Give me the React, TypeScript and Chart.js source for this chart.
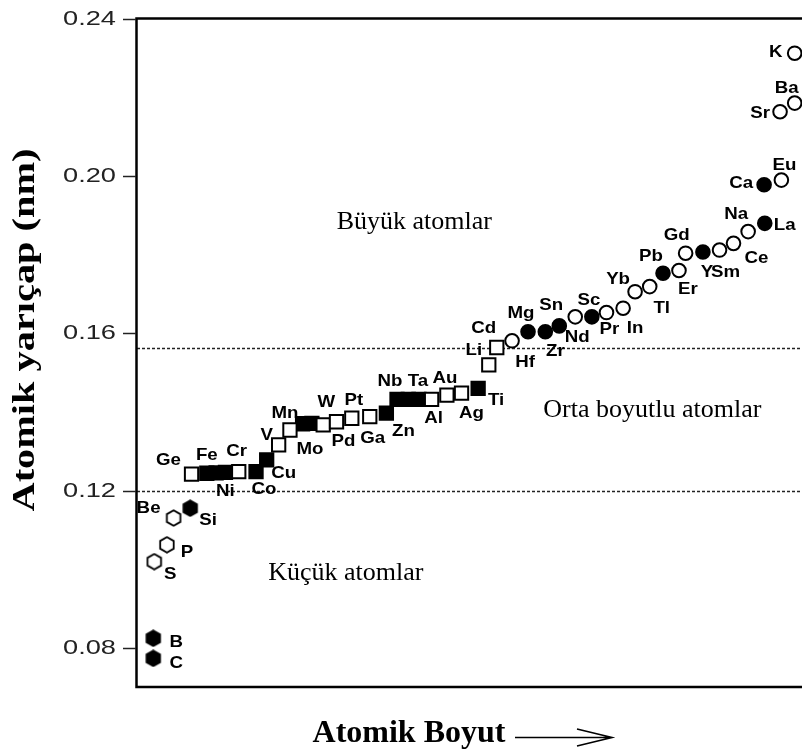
import { useEffect, useRef } from 'react';
import { Chart, registerables } from 'chart.js';

Chart.register(...registerables);

// Y axis ticks and region boundaries (nm)
const yTickValues = [0.08, 0.12, 0.16, 0.2, 0.24];
const yTickLabels = ['0.08', '0.12', '0.16', '0.20', '0.24'];
const smallLimit = 0.1198;
const largeLimit = 0.1563;

// Hexagons
const openHexNames = ['S', 'P', 'Be'];
const openHexX = [2.6, 4.5, 5.5];
const openHexY = [0.1019, 0.1062, 0.113];
const filledHexNames = ['B', 'C', 'Si'];
const filledHexX = [2.45, 2.45, 8.0];
const filledHexY = [0.0824, 0.0773, 0.1155];

// Squares
const openSquareNames = ['Ge', 'Cr', 'V', 'Mn', 'W', 'Pd', 'Pt', 'Ga', 'Al', 'Au', 'Ag', 'Li', 'Cd'];
const openSquareX = [8.2, 15.3, 21.3, 23.0, 28.0, 30.0, 32.3, 35.0, 44.3, 46.6, 48.8, 52.9, 54.1];
const openSquareY = [0.1242, 0.1248, 0.1316, 0.1354, 0.1367, 0.1375, 0.1384, 0.1388, 0.1432, 0.1443, 0.1448, 0.152, 0.1564];
const filledSquareNames = ['Fe', '', 'Ni', 'Co', 'Cu', '', 'Mo', 'Zn', 'Nb', '', 'Ta', 'Ti'];
const filledSquareX = [10.5, 11.9, 13.3, 17.9, 19.5, 24.9, 26.3, 37.5, 39.1, 40.8, 42.4, 51.3];
const filledSquareY = [0.1244, 0.1245, 0.1246, 0.1248, 0.1278, 0.137, 0.1371, 0.1397, 0.1432, 0.1432, 0.1432, 0.146];

// Circles
const openCircleNames = ['Hf', 'Nd', 'Pr', 'In', 'Yb', 'Tl', 'Er', 'Gd', 'Sm', 'Ce', 'Na', 'Eu', 'Sr', 'Ba', 'K'];
const openCircleX = [56.4, 65.9, 70.6, 73.1, 74.9, 77.1, 81.5, 82.5, 87.6, 89.7, 91.9, 96.9, 96.7, 98.9, 98.9];
const openCircleY = [0.1581, 0.1642, 0.1653, 0.1664, 0.1706, 0.1719, 0.176, 0.1804, 0.1812, 0.1829, 0.1859, 0.199, 0.2164, 0.2186, 0.2313];
const filledCircleNames = ['Mg', 'Zr', 'Sn', 'Sc', 'Pb', 'Y', 'La', 'Ca'];
const filledCircleX = [58.8, 61.4, 63.5, 68.4, 79.1, 85.1, 94.4, 94.3];
const filledCircleY = [0.1604, 0.1604, 0.1619, 0.1642, 0.1753, 0.1807, 0.188, 0.1978];

// Region captions: text, x, y in data units
const regionText = ['Büyük atomlar', 'Orta boyutlu atomlar', 'Küçük atomlar'];
const regionX = [41.7, 77.5, 31.4];
const regionY = [0.1883, 0.1405, 0.099];

// Element label placement relative to its marker (px)
const labelOffset: Record<string, [number, number]> = {
  B: [23, 4], C: [23, 5], S: [16, 13], P: [20, 8], Be: [-25, -10], Si: [18, 12],
  Ge: [-23, -14], Fe: [0, -18], Ni: [0, 19], Cr: [-2, -20], Co: [8, 18], Cu: [17, 13],
  V: [-12, -10], Mn: [-5, -17], Mo: [-2, 26], W: [3, -23], Pd: [7, 20], Pt: [2, -18], Ga: [3, 22],
  Zn: [17, 18], Nb: [-7, -18], Ta: [-1, -18], Al: [2, 19], Au: [-2, -17], Ag: [10, 20], Ti: [18, 12],
  Li: [-15, -14], Cd: [-13, -19], Hf: [13, 21], Mg: [-7, -18], Zr: [10, 20], Sn: [-8, -21],
  Nd: [2, 20], Sc: [-3, -17], Pr: [3, 17], In: [12, 20], Yb: [-17, -12], Tl: [12, 22], Pb: [-12, -17],
  Er: [9, 19], Gd: [-9, -18], Y: [4, 20], Sm: [6, 22], Ce: [23, 15], Na: [-12, -17], La: [20, 2],
  Ca: [-23, -2], Eu: [3, -15], Sr: [-20, 2], Ba: [-8, -15], K: [-19, -1],
};

const SANS = '"Liberation Sans", Arial, Helvetica, sans-serif';
const SERIF = '"Liberation Serif", "Times New Roman", serif';

function hexImage(filled: boolean): HTMLCanvasElement {
  const c = document.createElement('canvas');
  c.width = 18;
  c.height = 18;
  const g = c.getContext('2d')!;
  const r = 7.8;
  const cx = 9;
  const cy = 9;
  g.beginPath();
  for (let k = 0; k < 6; k++) {
    const a = Math.PI / 2 + (k * Math.PI) / 3;
    const px = cx + r * Math.cos(a);
    const py = cy - r * Math.sin(a);
    if (k === 0) g.moveTo(px, py);
    else g.lineTo(px, py);
  }
  g.closePath();
  g.fillStyle = filled ? '#000' : '#fff';
  g.fill();
  g.lineWidth = 1.8;
  g.strokeStyle = '#000';
  g.stroke();
  return c;
}

function pts(xs: number[], ys: number[]) {
  return xs.map((x, i) => ({ x, y: ys[i] }));
}

export default function App() {
  const canvasRef = useRef<HTMLCanvasElement | null>(null);

  useEffect(() => {
    document.body.style.margin = '0';
    document.body.style.overflow = 'hidden';
    const canvas = canvasRef.current;
    if (!canvas) return;

    const names: string[][] = [
      openSquareNames, filledSquareNames, openCircleNames, filledCircleNames, openHexNames, filledHexNames,
    ];

    const decorations = {
      id: 'decorations',
      beforeDatasetsDraw(chart: any) {
        const { ctx, chartArea, scales } = chart;
        const y = scales.y;
        ctx.save();
        ctx.strokeStyle = '#222';
        ctx.lineWidth = 1.4;
        ctx.setLineDash([3, 2]);
        [smallLimit, largeLimit].forEach((v) => {
          const py = Math.round(y.getPixelForValue(v)) + 0.5;
          ctx.beginPath();
          ctx.moveTo(chartArea.left, py);
          ctx.lineTo(chartArea.right, py);
          ctx.stroke();
        });
        ctx.setLineDash([]);

        // region captions
        ctx.fillStyle = '#000';
        ctx.font = `26px ${SERIF}`;
        ctx.textAlign = 'center';
        ctx.textBaseline = 'middle';
        regionText.forEach((t, i) => {
          ctx.fillText(t, scales.x.getPixelForValue(regionX[i]), y.getPixelForValue(regionY[i]));
        });
        ctx.restore();
      },
      afterDatasetsDraw(chart: any) {
        const { ctx, chartArea, scales } = chart;
        const y = scales.y;
        ctx.save();

        // element labels
        ctx.fillStyle = '#000';
        ctx.font = `bold 17px ${SANS}`;
        ctx.textAlign = 'center';
        ctx.textBaseline = 'middle';
        names.forEach((list, di) => {
          const meta = chart.getDatasetMeta(di);
          list.forEach((name, i) => {
            if (!name) return;
            const el = meta.data[i];
            const off = labelOffset[name] || [0, -16];
            ctx.save();
            ctx.translate(el.x + off[0], el.y + off[1]);
            ctx.scale(1.1, 1);
            ctx.fillText(name, 0, 0);
            ctx.restore();
          });
        });

        // frame
        ctx.strokeStyle = '#000';
        ctx.lineWidth = 2.5;
        ctx.beginPath();
        ctx.moveTo(chartArea.right + 2, chartArea.top - 0.5);
        ctx.lineTo(chartArea.left - 0.5, chartArea.top - 0.5);
        ctx.lineTo(chartArea.left - 0.5, chartArea.bottom);
        ctx.lineTo(chartArea.right + 2, chartArea.bottom);
        ctx.stroke();

        // y ticks
        ctx.lineWidth = 1.5;
        ctx.strokeStyle = '#222';
        ctx.fillStyle = '#222';
        ctx.font = `20px ${SANS}`;
        ctx.textAlign = 'right';
        ctx.textBaseline = 'middle';
        yTickValues.forEach((v, i) => {
          const py = Math.round(y.getPixelForValue(v)) + 0.5;
          ctx.beginPath();
          ctx.moveTo(chartArea.left - 14, py);
          ctx.lineTo(chartArea.left - 1, py);
          ctx.stroke();
          ctx.save();
          ctx.translate(chartArea.left - 21, py);
          ctx.scale(1.36, 1);
          ctx.fillText(yTickLabels[i], 0, 0);
          ctx.restore();
        });

        // axis titles
        ctx.fillStyle = '#000';
        ctx.font = `bold 32px ${SERIF}`;
        ctx.textAlign = 'center';
        ctx.textBaseline = 'middle';
        ctx.save();
        ctx.translate(26, 330);
        ctx.rotate(-Math.PI / 2);
        ctx.scale(1.26, 1);
        ctx.fillText('Atomik yarıçap (nm)', 0, 0);
        ctx.restore();

        ctx.textBaseline = 'alphabetic';
        ctx.fillText('Atomik Boyut', 409, 742);

        // arrow after the x title
        ctx.strokeStyle = '#000';
        ctx.lineWidth = 1.6;
        ctx.beginPath();
        ctx.moveTo(515, 737.5);
        ctx.lineTo(610, 737.5);
        ctx.moveTo(577, 729);
        ctx.lineTo(612, 737.5);
        ctx.lineTo(577, 746);
        ctx.stroke();
        ctx.restore();
      },
    };

    const openStyle = { backgroundColor: '#fff', borderColor: '#000', borderWidth: 2 };
    const filledStyle = { backgroundColor: '#000', borderColor: '#000', borderWidth: 2 };

    const chart = new Chart(canvas, {
      type: 'scatter',
      data: {
        datasets: [
          { label: 'open squares', data: pts(openSquareX, openSquareY), pointStyle: 'rect', pointRadius: 9.4, ...openStyle, order: 2 },
          { label: 'filled squares', data: pts(filledSquareX, filledSquareY), pointStyle: 'rect', pointRadius: 9.4, ...filledStyle, order: 3 },
          { label: 'open circles', data: pts(openCircleX, openCircleY), pointStyle: 'circle', pointRadius: 6.8, ...openStyle, order: 2 },
          { label: 'filled circles', data: pts(filledCircleX, filledCircleY), pointStyle: 'circle', pointRadius: 6.8, ...filledStyle, order: 3 },
          { label: 'open hexagons', data: pts(openHexX, openHexY), pointStyle: hexImage(false), pointRadius: 7, ...openStyle, order: 2 },
          { label: 'filled hexagons', data: pts(filledHexX, filledHexY), pointStyle: hexImage(true), pointRadius: 7, ...filledStyle, order: 3 },
        ] as any,
      },
      options: {
        animation: false,
        responsive: true,
        maintainAspectRatio: false,
        layout: { autoPadding: false, padding: { left: 137, top: 19, right: 0, bottom: 62 } },
        scales: {
          x: { type: 'linear', min: 0, max: 100, display: false },
          y: { type: 'linear', min: 0.07, max: 0.24, display: false },
        },
        plugins: {
          legend: { display: false },
          tooltip: { enabled: false },
        },
        events: [],
      },
      plugins: [decorations],
    });

    return () => chart.destroy();
  }, []);

  return (
    <div style={{ position: 'relative', width: 802, height: 749, background: '#fff' }}>
      <canvas ref={canvasRef} />
    </div>
  );
}
